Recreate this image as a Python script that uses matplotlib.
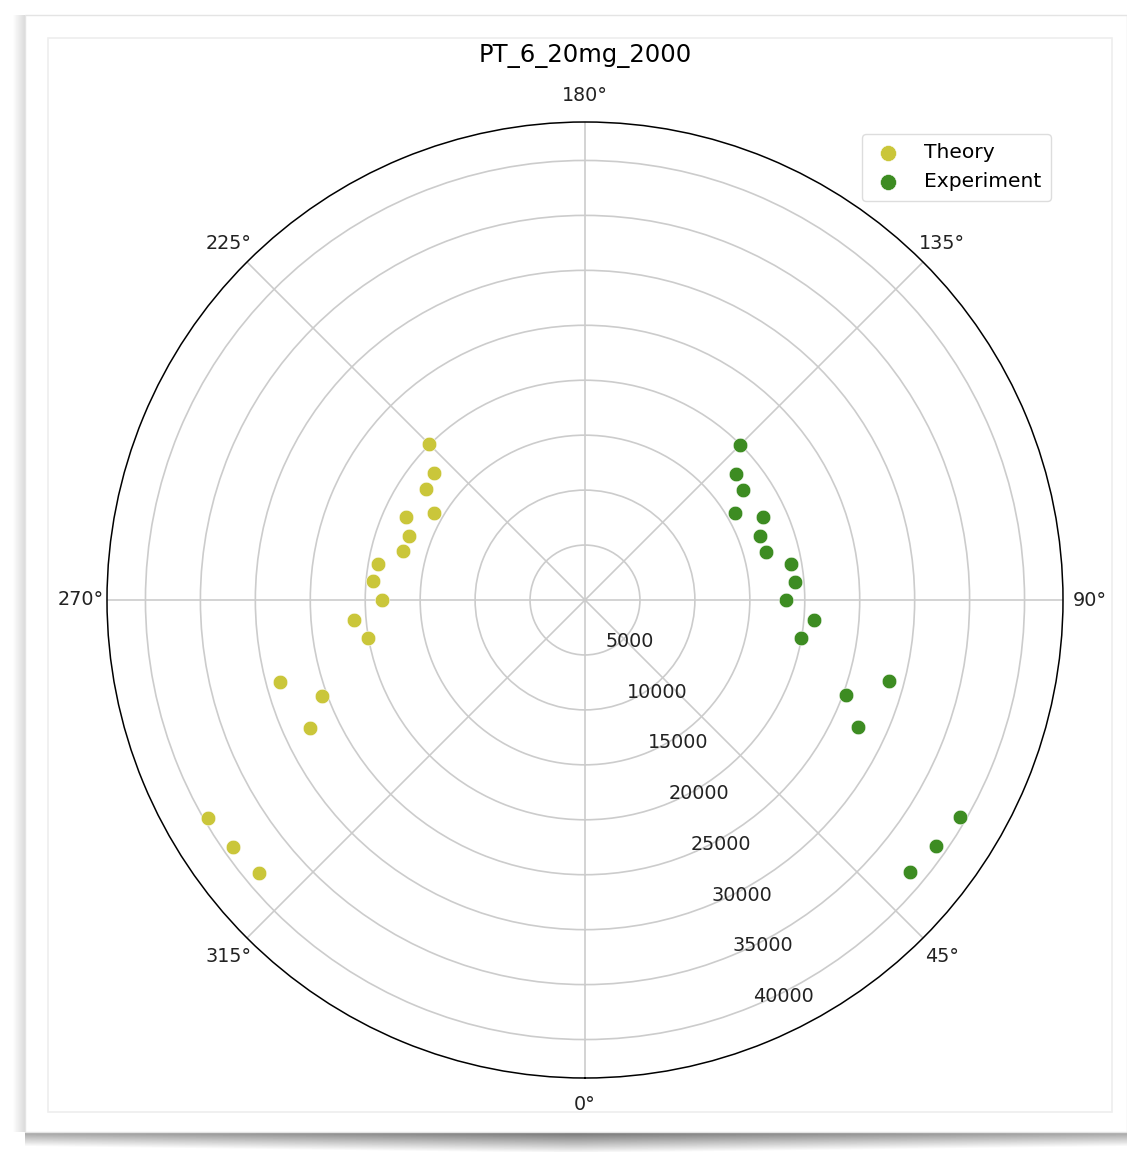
# -*- coding: utf-8 -*-
"""Polar scatter of theory vs experiment intensities for PT_6_20mg_2000."""

import matplotlib

matplotlib.use("Agg")
import matplotlib.pyplot as plt
import numpy as np
from matplotlib.patches import Rectangle

# angles in degrees, radii
theory_deg = [225, 230, 235, 240, 245, 250, 255, 260, 265, 270,
              275, 280, 285, 290, 295, 300, 305, 310]
theory_r = [20100, 17950, 17650, 15880, 17980, 17000, 17130, 19120, 19340, 18450,
            21090, 20030, 28730, 25450, 27570, 39590, 39110, 38710]

exp_deg = [135, 130, 125, 120, 115, 110, 105, 100, 95, 90,
           85, 80, 75, 70, 65, 60, 55, 50]
exp_r = [19990, 17880, 17500, 15800, 17900, 16910, 17050, 19030, 19150, 18270,
         20910, 19940, 28650, 25280, 27410, 39430, 38960, 38570]

r_ticks = [5000, 10000, 15000, 20000, 25000, 30000, 35000, 40000]
r_max = 43500

plt.rcParams["font.family"] = "DejaVu Sans"
plt.rcParams["font.size"] = 13.8

fig = plt.figure(figsize=(11.27, 11.52), dpi=100)
W, H = 1127.0, 1152.0

# window-like backdrop with drop shadow
bg = fig.add_axes([0, 0, 1, 1], zorder=-10)
bg.set_axis_off()
bg.set_xlim(0, W)
bg.set_ylim(H, 0)
shadow = np.linspace(0.45, 0.95, 20)[:, None] * np.ones((1, 200))
xfade = np.clip(np.abs(np.linspace(-1, 1, 200)) * 0.6, 0, 1)[None, :]
shadow = np.clip(shadow + xfade * 0.3, 0, 1)
bg.imshow(shadow, cmap="gray", vmin=0, vmax=1, extent=(25, W, H, 1132), aspect="auto")
left = np.linspace(0.99, 0.86, 12)[None, :] * np.ones((50, 1))
bg.imshow(left, cmap="gray", vmin=0, vmax=1, extent=(13, 25, 1132, 15), aspect="auto")
bg.add_patch(Rectangle((25, 15), W - 25, 1117, facecolor="white", edgecolor="#e4e4e4", lw=1))
bg.add_patch(Rectangle((48, 38), 1112 - 48, 1112 - 38, facecolor="white", edgecolor="#eeeeee", lw=1.2))

ax = fig.add_axes([107 / W, 1 - 1078 / H, 956 / W, 956 / H], projection="polar")
ax.set_theta_zero_location("S")
ax.set_theta_direction(1)

ax.scatter(np.deg2rad(theory_deg), theory_r, s=110, color="#cac63a",
           edgecolors="white", linewidths=0.4, label="Theory", zorder=3)
ax.scatter(np.deg2rad(exp_deg), exp_r, s=110, color="#3d8c22",
           edgecolors="white", linewidths=0.4, label="Experiment", zorder=3)

ax.set_ylim(0, r_max)
ax.set_yticks(r_ticks)
ax.set_yticklabels([str(v) for v in r_ticks])
ax.set_rlabel_position(22.5)
ax.grid(color="#cccccc", linewidth=1.2)
ax.spines["polar"].set_linewidth(1.1)
ax.tick_params(axis="y", labelsize=13.8, colors="#222222")
ax.tick_params(axis="x", labelsize=13.8, colors="#222222", pad=8.5)

ax.set_title("PT_6_20mg_2000", fontsize=17.5, y=1.0, pad=43)
ax.legend(loc="upper right", fontsize=14.6, scatterpoints=1, framealpha=1,
          edgecolor="#dddddd", borderaxespad=0.6, markerscale=1.1,
          handletextpad=0.95, handlelength=1.7, borderpad=0.45)

fig.savefig("out.png", dpi=100)
plt.close(fig)
